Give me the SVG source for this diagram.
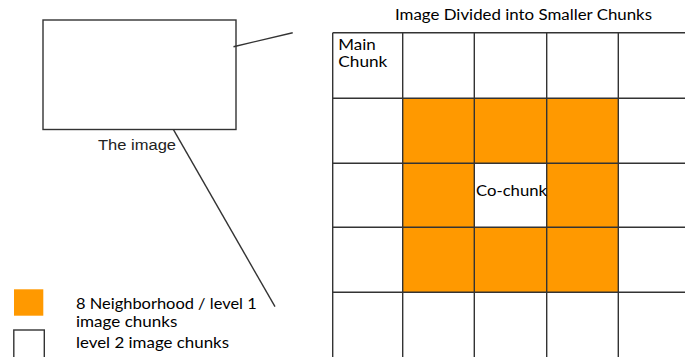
<svg xmlns="http://www.w3.org/2000/svg" width="685" height="357" viewBox="0 0 685 357">
  <style>
    .line { stroke: #333; stroke-width: 1.4; fill: none; }
    .box { stroke: #333; stroke-width: 1.4; fill: #fff; }
    .hot { fill: #FF9900; }
    .txt { font-family: Lato, "Open Sans", sans-serif; fill: #000; }
    .sans { font-family: "Liberation Sans", Arial, sans-serif; fill: #222; }
  </style>
  <rect width="685" height="357" fill="#fff"/>

  <!-- source image -->
  <g id="the-image">
    <rect class="box" x="43" y="20" width="193" height="109.5"/>
    <text class="sans" x="98" y="150" font-size="15.5" textLength="78" lengthAdjust="spacingAndGlyphs">The image</text>
  </g>

  <!-- chunk grid -->
  <g id="chunk-grid">
    <text class="txt" x="395" y="19.5" font-size="15.5" textLength="257" lengthAdjust="spacingAndGlyphs">Image Divided into Smaller Chunks</text>
    <!-- level 1 neighbourhood cells -->
    <rect class="hot" x="403" y="98.3" width="215.3" height="194"/>
    <rect fill="#fff" x="474.3" y="163.3" width="72.4" height="64"/>
    <!-- grid lines -->
    <path class="line" d="M332.7 32.7 V357 M402.7 32.7 V357 M474.3 32.7 V357 M546.7 32.7 V357 M618.3 32.7 V357"/>
    <path class="line" d="M332.7 32.7 H685 M332.7 98.3 H685 M332.7 163.3 H685 M332.7 227.3 H685 M332.7 292.3 H685"/>
    <text class="txt" x="338.3" y="50" font-size="16" textLength="37.5" lengthAdjust="spacingAndGlyphs">Main</text>
    <text class="txt" x="338.3" y="67.3" font-size="16" textLength="49" lengthAdjust="spacingAndGlyphs">Chunk</text>
    <text class="txt" x="476" y="196" font-size="15.5" textLength="71" lengthAdjust="spacingAndGlyphs">Co-chunk</text>
  </g>

  <!-- connectors from the image to the grid -->
  <g id="connectors">
    <line class="line" x1="233.5" y1="46.7" x2="292.7" y2="32.7"/>
    <line class="line" x1="173.3" y1="129.3" x2="275" y2="306.7"/>
  </g>

  <!-- legend -->
  <g id="legend">
    <rect class="hot" x="14" y="289.3" width="29.3" height="26.4"/>
    <rect class="box" x="13.8" y="330" width="30.5" height="30"/>
    <text class="txt" x="76" y="309" font-size="16" textLength="180.7" lengthAdjust="spacingAndGlyphs">8 Neighborhood / level 1</text>
    <text class="txt" x="76" y="327.3" font-size="16" textLength="101.3" lengthAdjust="spacingAndGlyphs">image chunks</text>
    <text class="txt" x="76" y="348.3" font-size="16" textLength="153" lengthAdjust="spacingAndGlyphs">level 2 image chunks</text>
  </g>
</svg>
